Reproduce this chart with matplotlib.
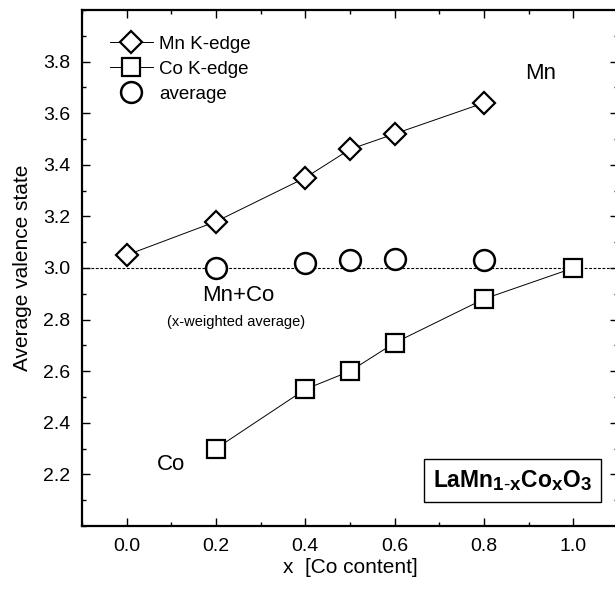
import numpy as np
import matplotlib
matplotlib.use("Agg")
import matplotlib.pyplot as plt
import matplotlib._mathtext as mathtext_internals
from matplotlib.ticker import MultipleLocator

plt.rcParams['font.family'] = ['Liberation Sans', 'DejaVu Sans']
plt.rcParams['mathtext.fontset'] = 'custom'
plt.rcParams['mathtext.rm'] = 'Liberation Sans'
plt.rcParams['mathtext.bf'] = 'Liberation Sans:bold'
plt.rcParams['mathtext.it'] = 'Liberation Sans:italic'
# the formula label uses big subscripts
mathtext_internals.SHRINK_FACTOR = 0.82

# data
x_mn = [0.0, 0.2, 0.4, 0.5, 0.6, 0.8]
val_mn = [3.05, 3.18, 3.35, 3.46, 3.52, 3.64]

x_co = [0.2, 0.4, 0.5, 0.6, 0.8, 1.0]
val_co = [2.30, 2.53, 2.60, 2.71, 2.88, 3.00]

x_avg = [0.2, 0.4, 0.5, 0.6, 0.8]
val_avg = [3.00, 3.02, 3.03, 3.035, 3.03]

fig = plt.figure(figsize=(6.15, 5.89), dpi=100)
ax = fig.add_axes([82 / 615, 63 / 589, 536 / 615, 516 / 589])

ax.axhline(3.0, color='black', lw=0.8, ls=(0, (2.5, 1.5)), zorder=1)

mk = dict(mfc='white', mec='black', mew=1.6, color='black', lw=0.7)
ax.plot(x_mn, val_mn, marker='D', ms=11, label='Mn K-edge', zorder=3, **mk)
ax.plot(x_co, val_co, marker='s', ms=13, label='Co K-edge', zorder=3, **mk)
ax.plot(x_avg, val_avg, marker='o', ms=15, ls='none', label='average', zorder=3,
        mfc='white', mec='black', mew=1.8)

ax.set_xlim(-0.1, 1.1)
ax.set_ylim(2.0, 4.0)
ax.xaxis.set_major_locator(MultipleLocator(0.2))
ax.xaxis.set_minor_locator(MultipleLocator(0.1))
ax.yaxis.set_minor_locator(MultipleLocator(0.1))
ax.set_yticks([2.2, 2.4, 2.6, 2.8, 3.0, 3.2, 3.4, 3.6, 3.8])
ax.tick_params(which='both', direction='in', top=True, right=True, width=1.0,
               labelsize=14, colors='black')
ax.tick_params(which='major', length=6, pad=8.5)
ax.tick_params(which='minor', length=3)
for s in ax.spines.values():
    s.set_linewidth(1.6)

ax.set_xlabel('x  [Co content]', fontsize=15, labelpad=2)
ax.set_ylabel('Average valence state', fontsize=15, labelpad=8)

ax.text(0.926, 3.754, 'Mn', fontsize=16, ha='center', va='center')
ax.text(0.25, 2.895, 'Mn+Co', fontsize=16, ha='center', va='center')
ax.text(0.246, 2.79, '(x-weighted average)', fontsize=10.5, ha='center', va='center')
ax.text(0.10, 2.24, 'Co', fontsize=16, ha='center', va='center')

ax.text(0.864, 2.175,
        r'LaMn$_{\mathbf{1}\text{-}\mathbf{x}}$Co$_{\mathbf{x}}$O$_{\mathbf{3}}$',
        fontsize=16.5, fontweight='bold', ha='center', va='center',
        bbox=dict(boxstyle='square,pad=0.4', fc='white', ec='black', lw=1.0))

ax.legend(loc='upper left', bbox_to_anchor=(0.052, 0.95), frameon=False,
          fontsize=13.5, handlelength=2.3, handletextpad=0.32, labelspacing=0.42,
          borderpad=0, borderaxespad=0)

fig.savefig('out.png', dpi=100)
